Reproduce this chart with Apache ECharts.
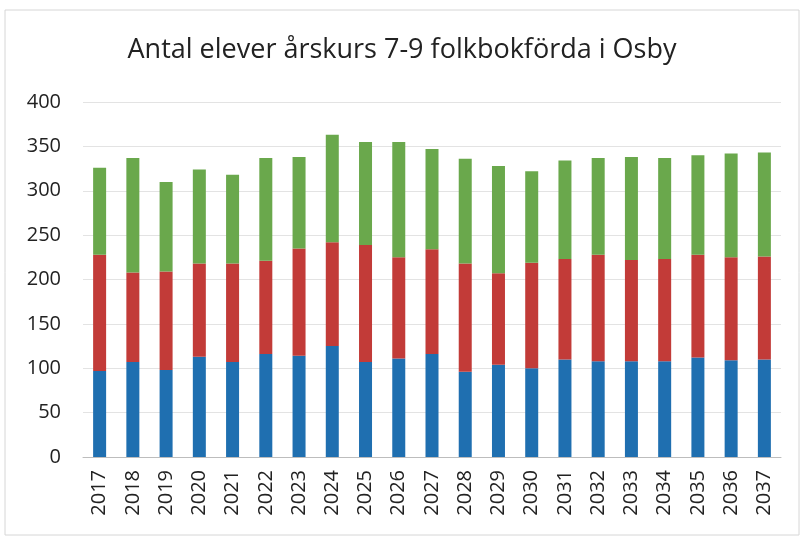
<!DOCTYPE html>
<html>
<head>
<meta charset="utf-8">
<script src="https://cdn.jsdelivr.net/npm/echarts@6/dist/echarts.min.js"></script>
<style>
  html, body { margin: 0; padding: 0; background: #fff; }
  #chart { width: 804px; height: 538px; }
</style>
</head>
<body>
<div id="chart"></div>
<script>
const years = ['2017', '2018', '2019', '2020', '2021', '2022', '2023', '2024', '2025', '2026', '2027',
  '2028', '2029', '2030', '2031', '2032', '2033', '2034', '2035', '2036', '2037'];
// årskurs 7, 8, 9 (stacked)
const ak7 = [97, 107, 98, 113, 107, 116, 114, 125, 107, 111, 116, 96, 104, 100, 110, 108, 108, 108, 112, 109, 110];
const ak8 = [131, 101, 111, 105, 111, 105, 121, 117, 132, 114, 118, 122, 103, 119, 113, 120, 114, 115, 116, 116, 116];
const ak9 = [98, 129, 101, 106, 100, 116, 103, 121, 116, 130, 113, 118, 121, 103, 111, 109, 116, 114, 112, 117, 117];
const yTicks = [0, 50, 100, 150, 200, 250, 300, 350, 400];

const font = 'Open Sans';
const barSeries = {
  type: 'bar',
  stack: 'total',
  barWidth: 13
};

const chart = echarts.init(document.getElementById('chart'));
chart.setOption({
  animation: false,
  color: ['#1f6fb0', '#c23b38', '#6aa84c'],
  title: {
    text: 'Antal elever årskurs 7-9 folkbokförda i Osby',
    left: 'center',
    top: 32,
    textStyle: {
      fontFamily: font,
      fontSize: 27,
      fontWeight: 'normal',
      color: '#222'
    }
  },
  graphic: [{
    type: 'rect',
    shape: { x: 5, y: 10, width: 794, height: 525 },
    style: { fill: 'none', stroke: '#d6d6d6', lineWidth: 1 }
  }],
  grid: {
    left: 83,
    right: 23,
    top: 102,
    bottom: 81
  },
  xAxis: {
    type: 'category',
    data: years,
    axisLine: { lineStyle: { color: '#bdbdbd' } },
    axisTick: { show: false },
    axisLabel: {
      rotate: 90,
      fontFamily: font,
      fontSize: 20,
      color: '#222',
      margin: 13
    }
  },
  yAxis: {
    type: 'value',
    min: yTicks[0],
    max: yTicks[yTicks.length - 1],
    interval: 50,
    axisLine: { show: false },
    axisTick: { show: false },
    splitLine: { lineStyle: { color: '#e3e3e3' } },
    axisLabel: {
      fontFamily: font,
      fontSize: 20,
      color: '#222',
      margin: 22
    }
  },
  series: [
    { name: 'Åk 7', ...barSeries, data: ak7 },
    { name: 'Åk 8', ...barSeries, data: ak8 },
    { name: 'Åk 9', ...barSeries, data: ak9 }
  ]
});
</script>
</body>
</html>
